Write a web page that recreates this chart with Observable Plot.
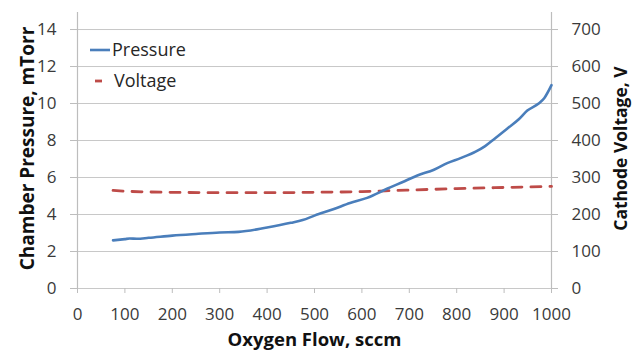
<!DOCTYPE html>
<html>
<head>
<meta charset="utf-8">
<script src="https://cdn.jsdelivr.net/npm/d3@7"></script>
<script src="https://cdn.jsdelivr.net/npm/@observablehq/plot@0.6"></script>
<style>
  html, body { margin: 0; padding: 0; background: #fff; }
  #wrap { position: relative; width: 639px; height: 353px; overflow: hidden; font-family: "Open Sans", sans-serif; }
  #legend { position: absolute; left: 88px; top: 34px; font-size: 18px; color: #262626; line-height: 31px; }
  #legend .row { display: flex; align-items: center; height: 31px; }
  #legend svg { margin-right: 2px; }
</style>
</head>
<body>
<div id="wrap"></div>
<script>
// Oxygen flow (sccm) and chamber pressure (mTorr)
const pressureFlow = [75, 100, 110, 125, 150, 200, 250, 300, 340, 400, 450, 475, 500, 541, 575, 611, 653, 690, 717, 752, 780, 808, 840, 860, 880, 907, 931, 949, 973, 985, 1000];
const pressure     = [2.60, 2.67, 2.70, 2.69, 2.74, 2.86, 2.95, 3.03, 3.06, 3.30, 3.55, 3.70, 3.94, 4.30, 4.62, 4.90, 5.39, 5.80, 6.11, 6.42, 6.78, 7.05, 7.40, 7.70, 8.10, 8.65, 9.15, 9.62, 10.0, 10.3, 10.99];
// Oxygen flow (sccm) and cathode voltage (V)
const voltageFlow = [75, 100, 150, 200, 300, 400, 500, 600, 650, 700, 800, 900, 1000];
const voltage     = [265, 263, 261, 260, 259, 259, 260, 262, 264, 266, 270, 273, 276];
// Tick labels
const xTicks = [0, 100, 200, 300, 400, 500, 600, 700, 800, 900, 1000];
const pressureTicks = [0, 2, 4, 6, 8, 10, 12, 14];
const voltageTicks = [0, 100, 200, 300, 400, 500, 600, 700];
const seriesNames = ["Pressure", "Voltage"];
const xTitle = "Oxygen Flow, sccm";
const yLeftTitle = "Chamber Pressure, mTorr";
const yRightTitle = "Cathode Voltage, V";

const ratio = 700 / 14; // voltage units per pressure unit
const pData = pressureFlow.map((f, i) => ({flow: f, value: pressure[i]}));
const vData = voltageFlow.map((f, i) => ({flow: f, value: voltage[i] / ratio}));

const blue = "#4A7EBB", red = "#BE4B48", gridC = "#C8C8C8", axisC = "#BDBDBD";

const chart = Plot.plot({
  width: 639, height: 353,
  marginLeft: 77, marginRight: 88, marginTop: 12, marginBottom: 65,
  x: {domain: [0, 1000]},
  y: {domain: [0, 14.92]},
  style: {fontFamily: "Open Sans, sans-serif", fontSize: "17px", color: "#3a3a3a", background: "white"},
  marks: [
    Plot.gridY(pressureTicks, {stroke: gridC, strokeOpacity: 1, strokeWidth: 1}),
    Plot.ruleX([0, 1000], {stroke: axisC, strokeWidth: 1.2}),
    Plot.axisX({ticks: xTicks, tickSize: 5, tickPadding: 14, stroke: axisC, label: null, tickFormat: d => String(d)}),
    Plot.axisY({ticks: pressureTicks, anchor: "left", tickSize: 7, tickPadding: 14, stroke: axisC, label: null}),
    Plot.axisY({ticks: voltageTicks.map(v => v / ratio), anchor: "right", tickSize: 6, tickPadding: 14, stroke: axisC, label: null, tickFormat: d => String(Math.round(d * ratio))}),
    Plot.line(vData, {x: "flow", y: "value", stroke: red, strokeWidth: 2.8, strokeDasharray: "10,9", curve: "monotone-x"}),
    Plot.line(pData, {x: "flow", y: "value", stroke: blue, strokeWidth: 2.6, curve: "monotone-x"}),
    Plot.text([xTitle], {frameAnchor: "bottom", dy: 52, text: d => d, fontWeight: "bold", fontSize: 18.5, fill: "#111", textAnchor: "middle", lineAnchor: "middle"}),
    Plot.text([yLeftTitle], {frameAnchor: "left", dx: -50, dy: -2, rotate: -90, text: d => d, fontWeight: "bold", fontSize: 19, fill: "#111", textAnchor: "middle", lineAnchor: "middle"}),
    Plot.text([yRightTitle], {frameAnchor: "right", dx: 70, dy: -2, rotate: -90, text: d => d, fontWeight: "bold", fontSize: 17.5, fill: "#111", textAnchor: "middle", lineAnchor: "middle"})
  ]
});
const wrap = document.getElementById("wrap");
wrap.appendChild(chart);

const legend = document.createElement("div");
legend.id = "legend";
legend.innerHTML = `
  <div class="row"><svg width="22" height="10"><line x1="2" x2="22" y1="5" y2="5" stroke="${blue}" stroke-width="2.6"/></svg><span>${seriesNames[0]}</span></div>
  <div class="row"><svg width="22" height="10"><line x1="7" x2="14" y1="5" y2="5" stroke="${red}" stroke-width="2.8"/></svg><span style="margin-left:2px">${seriesNames[1]}</span></div>`;
wrap.appendChild(legend);
</script>
</body>
</html>
